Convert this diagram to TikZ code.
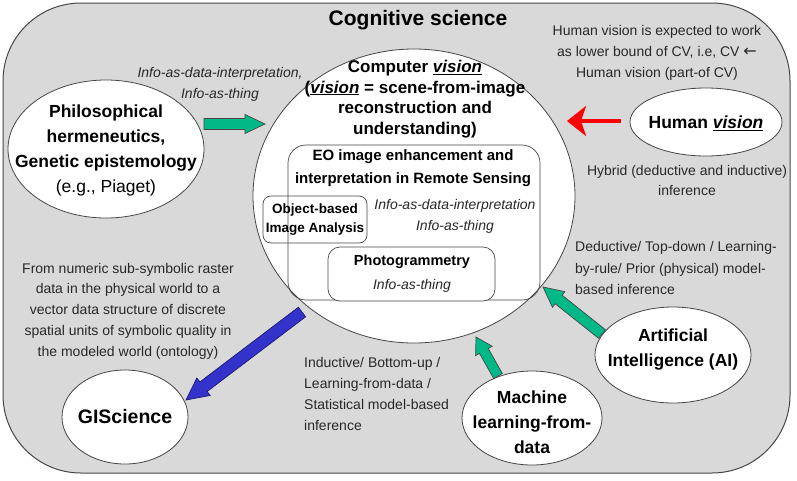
\documentclass[tikz,border=0pt]{standalone}
\usepackage{fontspec}
\setmainfont{Liberation Sans}
\newfontfamily\symfont{DejaVu Sans}
\usetikzlibrary{shapes.geometric,calc,arrows.meta}
\definecolor{bggray}{RGB}{217,217,217}
\definecolor{edgegray}{RGB}{70,70,70}
\definecolor{arrgreen}{RGB}{0,185,135}
\definecolor{arrblue}{RGB}{51,51,204}
\definecolor{txtgray}{RGB}{40,40,40}
\newcommand\vis{\underline{\textit{vision}}}
% block arrow: #1 from, #2 to, #3 fill, #4 outline, #5 half shaft, #6 half head, #7 head length
\newcommand\blockarr[7]{%
  \coordinate (ba-h) at ($(#2)!#7!(#1)$);
  \filldraw[fill=#3, draw=#4, line width=0.7pt, line join=miter]
    ($(#1)!#5!90:(#2)$) -- ($(ba-h)!#5!90:(#2)$) -- ($(ba-h)!#6!90:(#2)$) -- (#2)
    -- ($(ba-h)!#6!-90:(#2)$) -- ($(ba-h)!#5!-90:(#2)$) -- ($(#1)!#5!-90:(#2)$) -- cycle;}
\begin{document}
\begin{tikzpicture}[x=1pt,y=-1pt,
  oval/.style={ellipse, draw=edgegray, fill=white, line width=0.8pt, inner sep=0pt},
  ovaltxt/.style={align=center, inner sep=0pt, font=\bfseries\fontsize{17.5}{25}\selectfont},
  lbl/.style={align=center, text=txtgray, font=\fontsize{14}{20.8}\selectfont},
  lblleft/.style={align=left, text=txtgray, font=\fontsize{14}{21.3}\selectfont, anchor=west, inner sep=0pt},
  ilbl/.style={align=center, text=txtgray, font=\itshape\fontsize{14}{21}\selectfont, inner sep=0pt},
  inbox/.style={draw=edgegray, line width=0.7pt, rounded corners=14pt},
  btxt/.style={align=center, inner sep=0pt}
]
\useasboundingbox (0,0) rectangle (797,480);
% outer frame
\draw[fill=bggray, draw=edgegray, line width=1pt, rounded corners=78pt] (3,3) rectangle (790,473);
\node[font=\bfseries\fontsize{21}{24}\selectfont, inner sep=0pt] (cog) at (418,20) {Cognitive science};

% central circle
\node[oval, minimum width=322pt, minimum height=294pt] (cv) at (414,196) {};
\node[btxt, font=\bfseries\fontsize{17}{20.7}\selectfont] (cvt) at (415,99)
  {Computer \vis\\(\vis{} = scene-from-image\\reconstruction and\\understanding)};

% EO box
\draw[inbox, rounded corners=18pt] (288,145) rectangle (540,300);
\node[btxt, font=\bfseries\fontsize{15}{23}\selectfont] (eo) at (413,168)
  {EO image enhancement and\\interpretation in Remote Sensing};
\node[ilbl] (eoi) at (455,216) {Info-as-data-interpretation\\Info-as-thing};

% OBIA box
\draw[inbox, rounded corners=8pt] (263,196) rectangle (367,243);
\node[btxt, font=\bfseries\fontsize{13.5}{19}\selectfont] (obia) at (315,219.5) {Object-based\\Image Analysis};

% Photogrammetry box
\draw[inbox, fill=white, rounded corners=12pt] (328,247) rectangle (495,301);
\node[btxt, font=\bfseries\fontsize{14.5}{17}\selectfont] (ph) at (412,262) {Photogrammetry};
\node[ilbl] (phi) at (412,286) {Info-as-thing};

% outer ellipses
\node[oval, minimum width=196pt, minimum height=138pt] (phil) at (106,149) {};
\node[ovaltxt] (philt) at (106,150)
  {Philosophical\\hermeneutics,\\Genetic epistemology\\{\mdseries (e.g., Piaget)}};
\node[oval, minimum width=152pt, minimum height=68pt] (hv) at (706,122) {};
\node[ovaltxt] (hvt) at (706,123) {Human \vis};
\node[oval, minimum width=156pt, minimum height=96pt] (ai) at (673,355) {};
\node[ovaltxt] (ait) at (673,350) {Artificial\\Intelligence (AI)};
\node[oval, minimum width=140pt, minimum height=94pt] (ml) at (532,418) {};
\node[ovaltxt] (mlt) at (532,422) {Machine\\learning-from-\\data};
\node[oval, minimum width=126pt, minimum height=94pt] (gis) at (125,417) {};
\node[ovaltxt, font=\bfseries\fontsize{19.5}{24}\selectfont] (gist) at (125,417) {GIScience};

% labels
\node[ilbl] (l1) at (220,84.5) {Info-as-data-interpretation,\\Info-as-thing};
\node[lbl] (l2) at (657,53) {Human vision is expected to work\\as lower bound of CV, i.e, CV {\symfont\fontsize{16}{16}\selectfont ←}\\Human vision (part-of CV)};
\node[lbl] (l3) at (687,180.5) {Hybrid (deductive and inductive)\\inference};
\node[lblleft] (l4) at (575,268) {Deductive/ Top-down / Learning-\\by-rule/ Prior (physical) model-\\based inference};
\node[lblleft] (l5) at (304,394) {Inductive/ Bottom-up /\\Learning-from-data /\\Statistical model-based\\inference};
\node[lbl] (l6) at (128,311) {From numeric sub-symbolic raster\\data in the physical world to a\\vector data structure of discrete\\spatial units of symbolic quality in\\the modeled world (ontology)};

% arrows
\coordinate (ga1) at (204,124); \coordinate (gb1) at (265,124);
\blockarr{ga1}{gb1}{arrgreen}{edgegray}{5.5pt}{9.5pt}{20pt}
\coordinate (ga2) at (602,334); \coordinate (gb2) at (543,287);
\blockarr{ga2}{gb2}{arrgreen}{edgegray}{5.5pt}{10pt}{20pt}
\coordinate (ga3) at (498,376); \coordinate (gb3) at (476,337);
\blockarr{ga3}{gb3}{arrgreen}{edgegray}{5pt}{9.5pt}{16pt}
\coordinate (ba1) at (302,312); \coordinate (bb1) at (186,400);
\blockarr{ba1}{bb1}{arrblue}{arrblue!55!black}{6pt}{11pt}{22pt}
\coordinate (ra) at (621,121); \coordinate (rb) at (567,121);
\draw[red, line width=3.5pt, -{Stealth[length=19pt,width=30pt,inset=5pt]}] (ra) -- (rb);
\end{tikzpicture}
\end{document}
